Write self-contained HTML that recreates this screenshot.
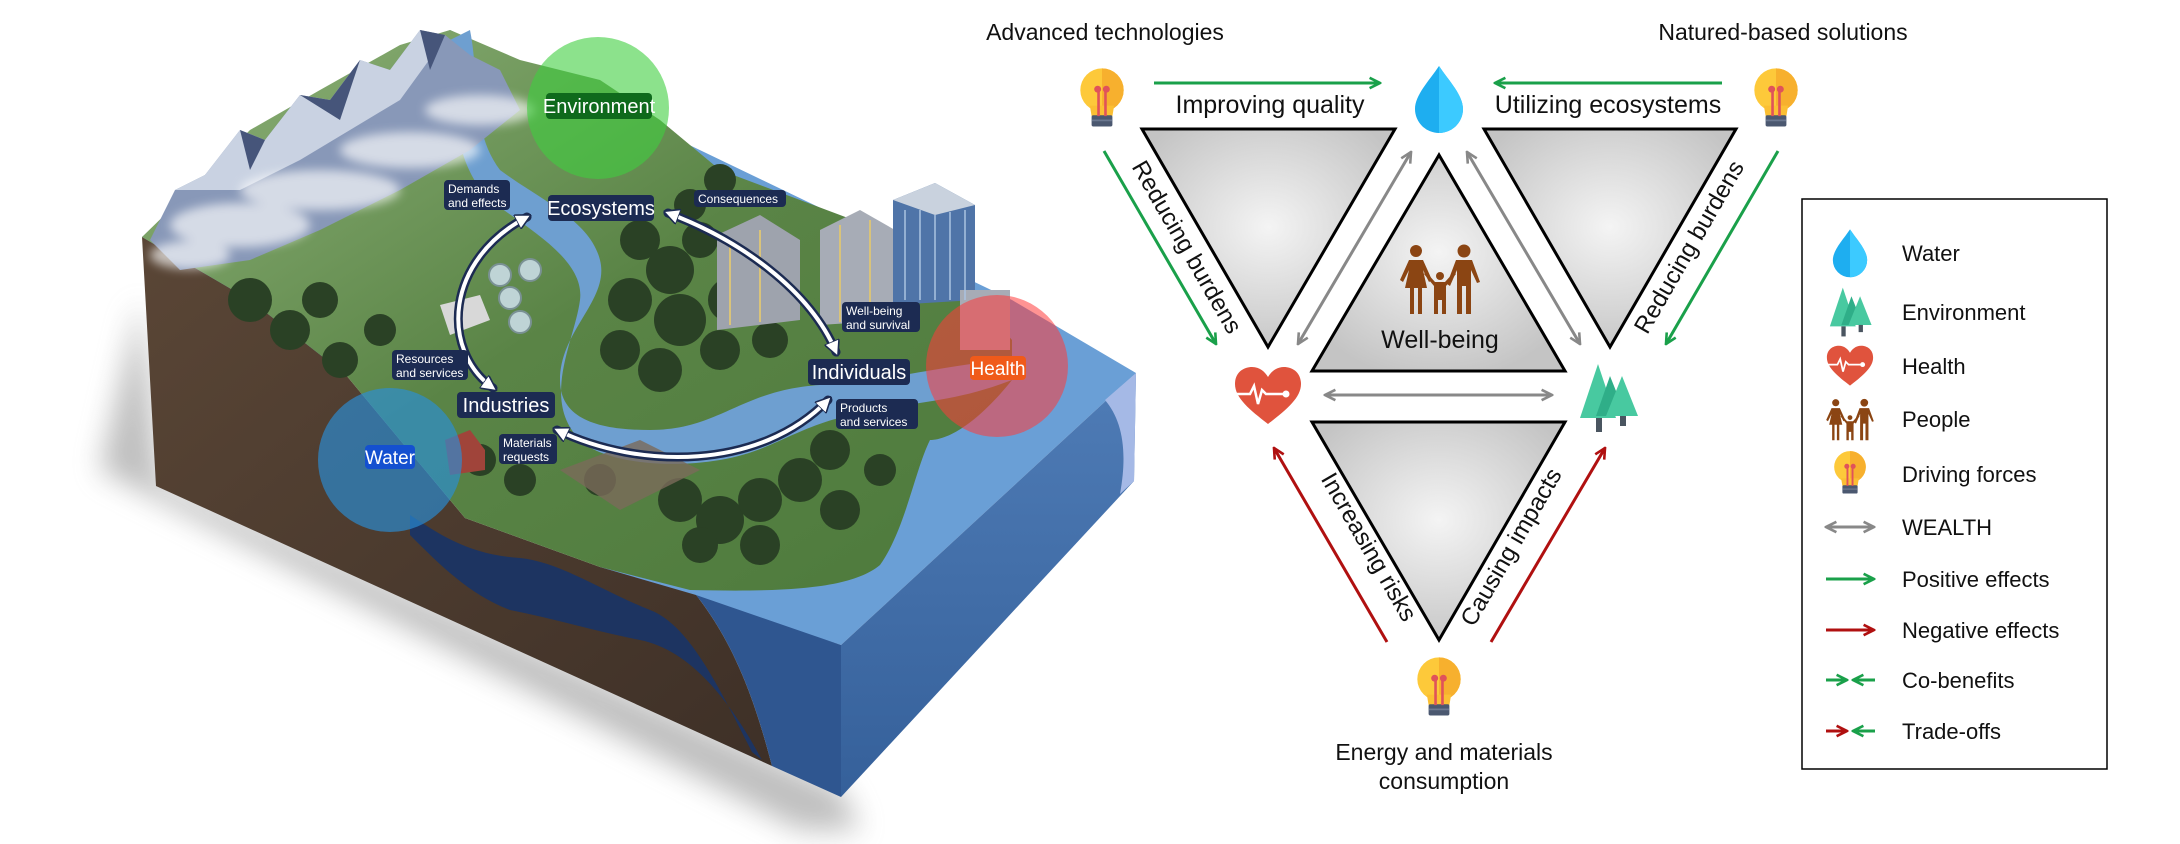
<!DOCTYPE html>
<html><head><meta charset="utf-8">
<style>
html,body{margin:0;padding:0;background:#fff;}
svg{display:block;}
text{font-family:"Liberation Sans",Arial,sans-serif;}
</style></head>
<body>
<svg width="2180" height="844" viewBox="0 0 2180 844" xmlns="http://www.w3.org/2000/svg">
<defs>
  <radialGradient id="tri" cx="50%" cy="45%" r="60%">
    <stop offset="0" stop-color="#f4f4f4"/>
    <stop offset="1" stop-color="#c4c4c4"/>
  </radialGradient>
  <linearGradient id="brown" x1="0" y1="0" x2="1" y2="1">
    <stop offset="0" stop-color="#5a4636"/>
    <stop offset="1" stop-color="#3e3027"/>
  </linearGradient>
  <linearGradient id="bluef" x1="0" y1="0" x2="0" y2="1">
    <stop offset="0" stop-color="#4f7cb6"/>
    <stop offset="1" stop-color="#35609a"/>
  </linearGradient>
  <linearGradient id="grass" x1="0" y1="0" x2="1" y2="1">
    <stop offset="0" stop-color="#8fb37a"/>
    <stop offset="0.5" stop-color="#5a8446"/>
    <stop offset="1" stop-color="#4d7a3c"/>
  </linearGradient>
  <filter id="blur" x="-20%" y="-20%" width="140%" height="140%"><feGaussianBlur stdDeviation="14"/></filter>
  <filter id="blur2"><feGaussianBlur stdDeviation="5"/></filter>
  <marker id="ag" viewBox="0 0 10 10" refX="9" refY="5" markerUnits="userSpaceOnUse" markerWidth="13" markerHeight="13" orient="auto-start-reverse"><path d="M1,1 L9,5 L1,9" fill="none" stroke="#1aa04a" stroke-width="2"/></marker>
  <marker id="ar" viewBox="0 0 10 10" refX="9" refY="5" markerUnits="userSpaceOnUse" markerWidth="13" markerHeight="13" orient="auto-start-reverse"><path d="M1,1 L9,5 L1,9" fill="none" stroke="#b01010" stroke-width="2"/></marker>
  <marker id="agr" viewBox="0 0 10 10" refX="9" refY="5" markerUnits="userSpaceOnUse" markerWidth="13" markerHeight="13" orient="auto-start-reverse"><path d="M1,1 L9,5 L1,9" fill="none" stroke="#888" stroke-width="2"/></marker>
  <marker id="aw" viewBox="0 0 10 10" refX="7" refY="5" markerWidth="4" markerHeight="4" orient="auto-start-reverse"><path d="M0,0 L10,5 L0,10 Z" fill="#fff" stroke="#1c2b52" stroke-width="1"/></marker>

  <symbol id="bulb" viewBox="-30 -40 60 80">
    <circle cx="0" cy="-8" r="25" fill="#fdc93a"/>
    <path d="M0,-33 A25,25 0 0 1 0,17 Z" fill="#f7b02e"/>
    <path d="M-14,10 L14,10 L12,22 L-12,22 Z" fill="#fbbf33"/>
    <rect x="-12" y="21" width="24" height="13" rx="2" fill="#4b5870"/>
    <rect x="-12" y="26" width="24" height="2" fill="#6b7890"/>
    <path d="M-4,22 L-4,-8 M4,22 L4,-8" stroke="#e0525a" stroke-width="3"/>
    <circle cx="-5" cy="-9" r="4" fill="#e0525a"/><circle cx="5" cy="-9" r="4" fill="#e0525a"/>
  </symbol>
  <symbol id="drop" viewBox="-25 -35 50 70">
    <path d="M0,-33 C10,-18 24,-4 24,10 A24,24 0 0 1 -24,10 C-24,-4 -10,-18 0,-33 Z" fill="#1eaef0"/>
    <path d="M0,-33 C10,-18 24,-4 24,10 A24,24 0 0 1 0,34 Z" fill="#3ccaff"/>
  </symbol>
  <symbol id="heart" viewBox="-34 -30 68 60">
    <path d="M0,28 C-18,14 -33,2 -33,-12 C-33,-24 -24,-29 -16,-29 C-8,-29 -3,-24 0,-19 C3,-24 8,-29 16,-29 C24,-29 33,-24 33,-12 C33,2 18,14 0,28 Z" fill="#e0533d"/>
    <path d="M-34,-2 L-18,-2 L-14,-10 L-10,8 L-6,-6 L-2,-2 L16,-2" fill="none" stroke="#fff" stroke-width="2.5"/>
    <circle cx="18" cy="-2" r="3.5" fill="#fff"/>
  </symbol>
  <symbol id="trees" viewBox="-32 -36 64 72">
    <path d="M-10,-34 L8,20 L-28,20 Z" fill="#48c9a0"/>
    <path d="M2,-22 L18,18 L-12,18 Z" fill="#2fae88"/>
    <path d="M14,-22 L30,18 L-2,18 Z" fill="#48c9a0"/>
    <rect x="-12" y="20" width="6" height="14" fill="#4a5560"/>
    <rect x="12" y="18" width="6" height="10" fill="#4a5560"/>
  </symbol>
  <symbol id="people" viewBox="-42 -36 84 72">
    <g fill="#8b4513">
      <circle cx="-24" cy="-29" r="6"/>
      <path d="M-31,-20 L-17,-20 L-8,0 L-11,2 L-17,-10 L-13,8 L-18,8 L-18,34 L-22,34 L-22,8 L-26,8 L-26,34 L-30,34 L-30,8 L-35,8 L-31,-10 L-37,2 L-40,0 Z"/>
      <circle cx="24" cy="-29" r="6.5"/>
      <path d="M16,-20 L32,-20 L40,2 L37,3 L31,-10 L31,34 L26,34 L26,6 L22,6 L22,34 L17,34 L17,-10 L10,6 L7,4 Z"/>
      <circle cx="0" cy="-4" r="4"/>
      <path d="M-5,2 L5,2 L14,-8 L16,-6 L6,6 L6,34 L2,34 L2,20 L-2,20 L-2,34 L-6,34 L-6,6 L-16,-6 L-14,-8 Z"/>
    </g>
  </symbol>
</defs>

<!-- ================= LEFT ILLUSTRATION ================= -->
<path d="M140,300 L100,470 L800,830 L860,830 L841,790 L160,480 Z" fill="#8a8a8a" opacity="0.55" filter="url(#blur)"/>
<!-- base water for the whole top face -->
<path d="M142,237 L450,30 L1012,300 L1136,373 L841,645 L600,567 L346,375 Z" fill="#6a9fd6"/>
<path d="M142,237 L156,486 L772,766 C760,720 740,650 696,595 L600,567 L465,518 L400,440 L346,375 L250,300 Z" fill="url(#brown)"/>
<path d="M410,515 C440,535 470,555 520,558 C560,562 600,590 650,610 C690,625 720,690 752,752 L762,760 C730,700 690,650 640,640 C590,630 560,620 510,610 C470,595 440,565 410,535 Z" fill="#1d3461"/>
<path d="M696,595 C740,650 760,720 772,766 L841,797 L841,645 Z" fill="#2f5690"/>
<path d="M841,645 L1136,373 L1134,481 L841,797 Z" fill="url(#bluef)"/>
<path d="M1105,400 L1136,373 L1134,481 L1120,494 C1128,450 1122,420 1105,400 Z" fill="#a5b9e6"/>
<!-- top green surface -->
<path d="M142,237 L180,200 L250,130 L320,90 L400,45 L450,30 L520,60 L600,80 L660,120 L720,170 L800,200 L880,230 L960,280 L1012,340 L1012,380 C980,420 950,440 930,440 C915,470 905,530 880,565 C850,590 780,592 690,590 L600,567 L465,518 L400,440 L346,375 L250,300 Z" fill="url(#grass)"/>
<!-- river -->
<path d="M470,30 C480,80 470,130 500,170 C540,200 590,220 600,260 C610,300 560,330 560,380 C560,420 600,430 650,430 C720,430 740,390 820,385 C880,382 920,370 1000,360 L1012,380 C960,400 930,400 880,410 C800,420 780,450 720,460 C660,470 600,460 580,440 C540,400 575,340 580,300 C585,260 530,230 490,200 C450,160 455,100 450,40 Z" fill="#6e9fd0"/>
<!-- mountains -->
<path d="M150,240 L175,190 L205,175 L240,130 L265,140 L300,95 L330,100 L360,60 L390,70 L420,30 L445,35 L470,55 L500,70 L520,110 L470,150 L400,190 L320,230 L250,260 L180,270 Z" fill="#8898b8"/>
<path d="M175,190 L205,175 L240,130 L265,140 L300,95 L330,100 L360,60 L390,70 L420,30 L440,45 L400,100 L350,130 L300,160 L240,190 Z" fill="#c9d2e2"/>
<path d="M300,95 L330,100 L360,60 L340,120 Z M240,130 L265,140 L250,170 Z M420,30 L445,35 L430,70 Z" fill="#46557a"/>
<g fill="#ffffff" opacity="0.65" filter="url(#blur2)">
  <ellipse cx="240" cy="225" rx="70" ry="22"/>
  <ellipse cx="320" cy="190" rx="80" ry="20"/>
  <ellipse cx="410" cy="150" rx="70" ry="18"/>
  <ellipse cx="480" cy="110" rx="55" ry="15"/>
  <ellipse cx="190" cy="255" rx="40" ry="14"/>
</g>
<!-- trees -->
<g fill="#2a4125">
  <circle cx="250" cy="300" r="22"/><circle cx="290" cy="330" r="20"/><circle cx="320" cy="300" r="18"/>
  <circle cx="340" cy="360" r="18"/><circle cx="380" cy="330" r="16"/>
  <circle cx="640" cy="240" r="20"/><circle cx="670" cy="270" r="24"/><circle cx="700" cy="240" r="18"/>
  <circle cx="630" cy="300" r="22"/><circle cx="680" cy="320" r="26"/><circle cx="730" cy="300" r="22"/>
  <circle cx="620" cy="350" r="20"/><circle cx="660" cy="370" r="22"/><circle cx="720" cy="350" r="20"/><circle cx="770" cy="340" r="18"/>
  <circle cx="720" cy="180" r="16"/><circle cx="690" cy="205" r="16"/>
  <circle cx="680" cy="500" r="22"/><circle cx="720" cy="520" r="24"/><circle cx="760" cy="500" r="22"/>
  <circle cx="800" cy="480" r="22"/><circle cx="830" cy="450" r="20"/><circle cx="700" cy="545" r="18"/>
  <circle cx="760" cy="545" r="20"/><circle cx="840" cy="510" r="20"/><circle cx="880" cy="470" r="16"/>
  <circle cx="600" cy="480" r="16"/><circle cx="480" cy="460" r="16"/><circle cx="520" cy="480" r="16"/>
</g>
<path d="M560,470 L640,440 L700,470 L620,510 Z" fill="#7a6a5a" opacity="0.8"/>
<g fill="#bfd4d6" stroke="#7a9194" stroke-width="2">
  <circle cx="500" cy="275" r="11"/><circle cx="530" cy="270" r="11"/><circle cx="510" cy="298" r="11"/><circle cx="520" cy="322" r="11"/>
</g>
<path d="M440,305 L480,295 L490,320 L450,335 Z" fill="#d8d8d8"/>
<g>
  <path d="M717,235 L760,215 L800,240 L800,320 L717,330 Z" fill="#9ea3ad"/>
  <path d="M820,230 L860,210 L895,230 L895,320 L820,325 Z" fill="#a7acb6"/>
  <path d="M893,200 L935,183 L975,205 L975,300 L893,305 Z" fill="#4f74a8"/>
  <path d="M893,200 L935,183 L975,205 L935,215 Z" fill="#c9d2de"/>
  <path d="M960,290 L1010,290 L1010,350 L960,350 Z" fill="#a7acb6"/>
  <g stroke="#d9c37a" stroke-width="2"><line x1="730" y1="240" x2="730" y2="325"/><line x1="760" y1="230" x2="760" y2="322"/><line x1="840" y1="225" x2="840" y2="322"/><line x1="870" y1="220" x2="870" y2="322"/></g>
  <g stroke="#aac3e0" stroke-width="1.5"><line x1="905" y1="210" x2="905" y2="300"/><line x1="920" y1="210" x2="920" y2="300"/><line x1="935" y1="215" x2="935" y2="300"/><line x1="950" y1="212" x2="950" y2="300"/><line x1="965" y1="210" x2="965" y2="300"/></g>
</g>
<path d="M445,440 L470,430 L485,450 L485,470 L450,475 Z" fill="#a0443a"/>

<circle cx="598" cy="108" r="71" fill="#3fcf3f" opacity="0.6"/>
<circle cx="390" cy="460" r="72" fill="#2a8fd8" opacity="0.65"/>
<circle cx="997" cy="366" r="71" fill="#ff3b3b" opacity="0.55"/>

<g fill="none" stroke-linecap="round">
  <path d="M527,217 C445,260 440,350 493,388" stroke="#1c2b52" stroke-width="9"/>
  <path d="M527,217 C445,260 440,350 493,388" stroke="#fff" stroke-width="4" marker-start="url(#aw)" marker-end="url(#aw)"/>
  <path d="M668,213 C740,240 810,290 836,352" stroke="#1c2b52" stroke-width="9"/>
  <path d="M668,213 C740,240 810,290 836,352" stroke="#fff" stroke-width="4" marker-start="url(#aw)" marker-end="url(#aw)"/>
  <path d="M557,430 C640,470 760,470 828,400" stroke="#1c2b52" stroke-width="9"/>
  <path d="M557,430 C640,470 760,470 828,400" stroke="#fff" stroke-width="4" marker-start="url(#aw)" marker-end="url(#aw)"/>
</g>

<g font-family="Liberation Sans, Arial, sans-serif">
  <rect x="546" y="93" width="106" height="26" rx="4" fill="#0f6a1c"/>
  <text x="599" y="113" font-size="20" fill="#fff" text-anchor="middle">Environment</text>
  <rect x="548" y="195" width="106" height="26" rx="4" fill="#1c2b52"/>
  <text x="601" y="215" font-size="20" fill="#fff" text-anchor="middle">Ecosystems</text>
  <rect x="457" y="392" width="98" height="26" rx="4" fill="#1c2b52"/>
  <text x="506" y="412" font-size="20" fill="#fff" text-anchor="middle">Industries</text>
  <rect x="808" y="359" width="102" height="26" rx="4" fill="#1c2b52"/>
  <text x="859" y="379" font-size="20" fill="#fff" text-anchor="middle">Individuals</text>
  <rect x="365" y="445" width="50" height="24" rx="4" fill="#1450d0"/>
  <text x="390" y="464" font-size="19" fill="#fff" text-anchor="middle">Water</text>
  <rect x="970" y="356" width="56" height="24" rx="4" fill="#f05a1a"/>
  <text x="998" y="375" font-size="19" fill="#fff" text-anchor="middle">Health</text>
  <g font-size="12" fill="#fff">
    <rect x="444" y="180" width="66" height="30" rx="4" fill="#1c2b52"/>
    <text x="448" y="193">Demands</text><text x="448" y="207">and effects</text>
    <rect x="694" y="190" width="92" height="17" rx="4" fill="#1c2b52"/>
    <text x="698" y="203">Consequences</text>
    <rect x="842" y="302" width="78" height="30" rx="4" fill="#1c2b52"/>
    <text x="846" y="315">Well-being</text><text x="846" y="329">and survival</text>
    <rect x="392" y="350" width="76" height="30" rx="4" fill="#1c2b52"/>
    <text x="396" y="363">Resources</text><text x="396" y="377">and services</text>
    <rect x="836" y="399" width="82" height="30" rx="4" fill="#1c2b52"/>
    <text x="840" y="412">Products</text><text x="840" y="426">and services</text>
    <rect x="499" y="434" width="58" height="30" rx="4" fill="#1c2b52"/>
    <text x="503" y="447">Materials</text><text x="503" y="461">requests</text>
  </g>
</g>

<!-- ================= RIGHT DIAGRAM ================= -->
<g stroke="#000" stroke-width="3" fill="url(#tri)" stroke-linejoin="miter">
  <polygon points="1142,129 1395,129 1268,347"/>
  <polygon points="1484,129 1736,129 1610,347"/>
  <polygon points="1439,155 1312,371 1565,371"/>
  <polygon points="1312,422 1565,422 1439,640"/>
</g>

<g fill="none" stroke-width="3">
  <line x1="1154" y1="83" x2="1380" y2="83" stroke="#1aa04a" marker-end="url(#ag)"/>
  <line x1="1722" y1="83" x2="1495" y2="83" stroke="#1aa04a" marker-end="url(#ag)"/>
  <line x1="1104" y1="151" x2="1216" y2="344" stroke="#1aa04a" marker-end="url(#ag)"/>
  <line x1="1778" y1="151" x2="1666" y2="344" stroke="#1aa04a" marker-end="url(#ag)"/>
  <line x1="1387" y1="642" x2="1274" y2="448" stroke="#b01010" marker-end="url(#ar)"/>
  <line x1="1491" y1="642" x2="1605" y2="448" stroke="#b01010" marker-end="url(#ar)"/>
  <line x1="1411" y1="152" x2="1298" y2="344" stroke="#888" marker-start="url(#agr)" marker-end="url(#agr)"/>
  <line x1="1467" y1="152" x2="1580" y2="344" stroke="#888" marker-start="url(#agr)" marker-end="url(#agr)"/>
  <line x1="1325" y1="395" x2="1552" y2="395" stroke="#888" marker-start="url(#agr)" marker-end="url(#agr)"/>
</g>

<use href="#bulb" x="1076" y="62" width="52" height="70"/>
<use href="#bulb" x="1750" y="62" width="52" height="70"/>
<use href="#bulb" x="1413" y="651" width="52" height="70"/>
<use href="#drop" x="1414" y="64" width="50" height="70"/>
<use href="#heart" x="1234" y="366" width="68" height="60"/>
<use href="#trees" x="1576" y="362" width="64" height="72"/>
<use href="#people" x="1398" y="244" width="84" height="72"/>

<g font-family="Liberation Sans, Arial, sans-serif" fill="#111">
  <text x="1105" y="40" font-size="23" text-anchor="middle">Advanced technologies</text>
  <text x="1783" y="40" font-size="23" text-anchor="middle">Natured-based solutions</text>
  <text x="1270" y="113" font-size="25" text-anchor="middle">Improving quality</text>
  <text x="1608" y="113" font-size="25" text-anchor="middle">Utilizing ecosystems</text>
  <text x="1440" y="348" font-size="25" text-anchor="middle">Well-being</text>
  <text x="1444" y="760" font-size="23" text-anchor="middle">Energy and materials</text>
  <text x="1444" y="789" font-size="23" text-anchor="middle">consumption</text>
  <text transform="translate(1180,251) rotate(60)" font-size="24" text-anchor="middle">Reducing burdens</text>
  <text transform="translate(1696,251) rotate(-60)" font-size="24" text-anchor="middle">Reducing burdens</text>
  <text transform="translate(1362,551) rotate(60)" font-size="24" text-anchor="middle">Increasing risks</text>
  <text transform="translate(1518,551) rotate(-60)" font-size="24" text-anchor="middle">Causing impacts</text>
</g>

<rect x="1802" y="199" width="305" height="570" fill="#fff" stroke="#000" stroke-width="1.5"/>
<use href="#drop" x="1832" y="228" width="36" height="50"/>
<use href="#trees" x="1827" y="286" width="46" height="52"/>
<use href="#heart" x="1826" y="345" width="48" height="42"/>
<use href="#people" x="1825" y="398" width="50" height="44"/>
<use href="#bulb" x="1831" y="446" width="38" height="52"/>
<g fill="none" stroke-width="3">
  <line x1="1826" y1="527" x2="1874" y2="527" stroke="#888" marker-start="url(#agr)" marker-end="url(#agr)"/>
  <line x1="1826" y1="579" x2="1874" y2="579" stroke="#1aa04a" marker-end="url(#ag)"/>
  <line x1="1826" y1="630" x2="1874" y2="630" stroke="#b01010" marker-end="url(#ar)"/>
  <line x1="1826" y1="680" x2="1847" y2="680" stroke="#1aa04a" marker-end="url(#ag)"/>
  <line x1="1875" y1="680" x2="1853" y2="680" stroke="#1aa04a" marker-end="url(#ag)"/>
  <line x1="1826" y1="731" x2="1847" y2="731" stroke="#b01010" marker-end="url(#ar)"/>
  <line x1="1875" y1="731" x2="1853" y2="731" stroke="#1aa04a" marker-end="url(#ag)"/>
</g>
<g font-family="Liberation Sans, Arial, sans-serif" font-size="22" fill="#111">
  <text x="1902" y="261">Water</text>
  <text x="1902" y="320">Environment</text>
  <text x="1902" y="374">Health</text>
  <text x="1902" y="427">People</text>
  <text x="1902" y="482">Driving forces</text>
  <text x="1902" y="535">WEALTH</text>
  <text x="1902" y="587">Positive effects</text>
  <text x="1902" y="638">Negative effects</text>
  <text x="1902" y="688">Co-benefits</text>
  <text x="1902" y="739">Trade-offs</text>
</g>
</svg>
</body></html>
